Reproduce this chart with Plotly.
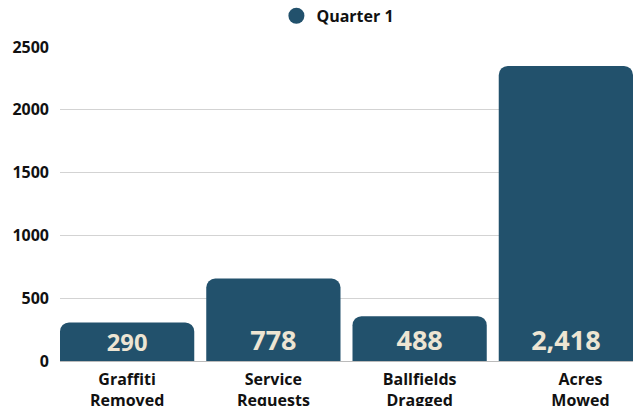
import plotly.graph_objects as go

NB = "\u00a0" * 7
categories = ["Graffiti<br>Removed", "Service<br>Requests", "Ballfields<br>Dragged",
              NB + "Acres<br>" + NB + "Mowed"]
bar_values = [307, 656, 357, 2349]
bar_labels = ["290", "778", "488", "2,418"]
series_name = "Quarter 1"
y_ticks = [0, 500, 1000, 1500, 2000, 2500]

BAR_COLOR = "#22516C"
TEXT_COLOR = "#EDE5D3"
FONT = "Open Sans"
BARGAP = 0.082

fig = go.Figure()
fig.add_trace(go.Bar(
    x=categories, y=bar_values, text=bar_labels,
    textposition="inside", insidetextanchor="start", constraintext="none",
    textfont=dict(family=FONT, size=27, color=TEXT_COLOR, weight="bold"),
    marker=dict(color=BAR_COLOR, cornerradius=9, line=dict(width=0)),
    showlegend=False, name=series_name, hoverinfo="y",
))
fig.add_trace(go.Scatter(
    x=[categories[0]], y=[None], mode="markers", name=series_name,
    marker=dict(symbol="circle", size=16, color=BAR_COLOR),
    showlegend=True,
))
fig.update_layout(
    width=641, height=406,
    margin=dict(l=60, r=8, t=47, b=45, autoexpand=False),
    paper_bgcolor="white", plot_bgcolor="white",
    bargap=BARGAP,
    font=dict(family=FONT, size=16, color="#111111", weight="bold"),
    legend=dict(orientation="h", x=0.485, xanchor="center", y=1.045, yanchor="bottom",
                font=dict(family=FONT, size=16, color="#111111", weight="bold"),
                itemsizing="trace"),
    xaxis=dict(showgrid=False, showline=True, linecolor="#BBBBBB", linewidth=1,
               range=[-0.5 + BARGAP / 2, len(categories) - 0.5 - BARGAP / 2],
               tickfont=dict(family=FONT, size=16, color="#111111", weight="bold"),
               ticks="", fixedrange=True, automargin=False, ticklabelstandoff=4),
    yaxis=dict(range=[0, 2500], tickvals=y_ticks, showgrid=True, gridcolor="#D3D3D3",
               gridwidth=1, zeroline=False, showline=False, automargin=False,
               tickfont=dict(family=FONT, size=16, color="#111111", weight="bold"),
               ticks="", ticklabelstandoff=10, fixedrange=True),
)
fig.write_html("out.html", config={"displayModeBar": False},
               post_script="document.body.style.margin='0px';")
